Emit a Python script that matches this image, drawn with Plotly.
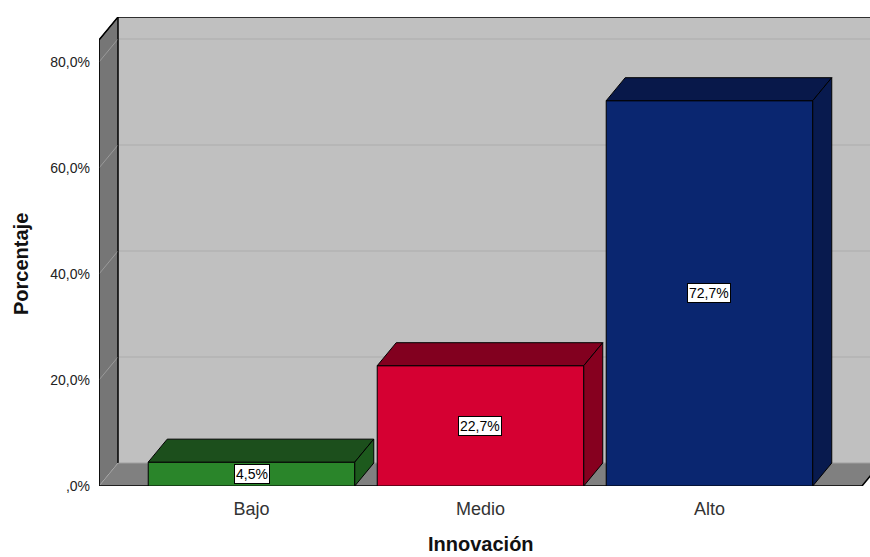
import plotly.graph_objects as go

# Datos
categorias = ["Bajo", "Medio", "Alto"]
porcentajes = [4.5, 22.7, 72.7]
ticks_y = [0, 20, 40, 60, 80]
ticks_y_texto = [",0%", "20,0%", "40,0%", "60,0%", "80,0%"]

color_frente = ["#2a852a", "#d50032", "#0a2670"]
color_techo = ["#1c4f1c", "#82001f", "#08184a"]
color_lado = ["#1d5a1d", "#86001f", "#081a4e"]

FUENTE = "Liberation Sans, Arial, sans-serif"

# Geometría del gráfico (unidades de datos)
X_MIN, X_MAX = -0.666, 2.701
Y_MAX = 88.49
PISO_FIN = 2.666
DX = 19 / 229          # profundidad horizontal
DY = 23 / 5.3          # profundidad vertical
MEDIO_ANCHO = 0.451

fig = go.Figure()


def poligono(xs, ys, fill, line_color="black", width=1):
    fig.add_trace(go.Scatter(
        x=xs + [xs[0]], y=ys + [ys[0]], mode="lines", fill="toself",
        fillcolor=fill, line=dict(color=line_color, width=width),
        hoverinfo="skip", showlegend=False))


def linea(xs, ys, color, width=1):
    fig.add_trace(go.Scatter(
        x=xs, y=ys, mode="lines", line=dict(color=color, width=width),
        hoverinfo="skip", showlegend=False))


# Pared de fondo
poligono([X_MIN + DX, X_MAX + 1, X_MAX + 1, X_MIN + DX],
         [DY, DY, Y_MAX, Y_MAX], "#c0c0c0", line_color="#c0c0c0", width=0)

# Líneas de cuadrícula en el fondo
for v in ticks_y[1:]:
    linea([X_MIN + DX, X_MAX + 1], [v + DY, v + DY], "#acacac")

# Pared lateral
poligono([X_MIN, X_MIN, X_MIN + DX, X_MIN + DX],
         [0, Y_MAX - DY, Y_MAX, DY], "#767676")
for v in ticks_y:
    linea([X_MIN, X_MIN + DX], [v, v + DY], "#9a9a9a")

# Piso
poligono([X_MIN, PISO_FIN, PISO_FIN + DX, X_MIN + DX],
         [0, 0, DY, DY], "#808080", line_color="#808080", width=0)
linea([X_MIN + DX, X_MAX + 1], [DY, DY], "#a0a0a0")
linea([X_MIN, X_MIN + DX], [0, DY], "#a8a8a8")
linea([X_MIN, PISO_FIN, PISO_FIN + DX], [0, 0, DY], "black", 1.5)
# Bordes de las paredes
linea([X_MIN, X_MIN, X_MIN + DX, X_MAX + 1], [0, Y_MAX - DY, Y_MAX, Y_MAX], "black", 1.5)
linea([X_MIN + DX, X_MIN + DX], [DY, Y_MAX], "black", 1)

# Barras 3D
for i, v in enumerate(porcentajes):
    x0, x1 = i - MEDIO_ANCHO, i + MEDIO_ANCHO
    # cara frontal
    poligono([x0, x1, x1, x0], [0, 0, v, v], color_frente[i])
    # cara superior
    poligono([x0, x1, x1 + DX, x0 + DX], [v, v, v + DY, v + DY], color_techo[i])
    # cara lateral
    poligono([x1, x1 + DX, x1 + DX, x1], [0, DY, v + DY, v], color_lado[i])

# Etiquetas de valor
for i, v in enumerate(porcentajes):
    fig.add_annotation(
        x=i, y=v / 2, text=f"{v:.1f}%".replace(".", ","), showarrow=False,
        bgcolor="white", bordercolor="black", borderwidth=1, borderpad=1,
        font=dict(family=FUENTE, size=14, color="black"))

# Títulos de los ejes
fig.add_annotation(
    xref="paper", yref="paper", x=(481 - 99) / 771, y=(486 - 544) / 469,
    text="<b>Innovación</b>", showarrow=False, xanchor="center", yanchor="middle",
    font=dict(family=FUENTE, size=20, color="#111111"))
fig.add_annotation(
    xref="paper", yref="paper", x=(21 - 99) / 771, y=(486 - 264) / 469,
    text="<b>Porcentaje</b>", showarrow=False, textangle=-90,
    xanchor="center", yanchor="middle",
    font=dict(family=FUENTE, size=20, color="#111111"))

fig.update_layout(
    width=870, height=557,
    margin=dict(l=99, r=0, t=17, b=71),
    paper_bgcolor="white", plot_bgcolor="white",
    font=dict(family=FUENTE, color="#222222"),
    xaxis=dict(
        range=[X_MIN, X_MAX], tickvals=[0, 1, 2], ticktext=categorias,
        showgrid=False, zeroline=False, showline=False, ticks="",
        tickfont=dict(size=18, color="#333333"), ticklabelstandoff=10),
    yaxis=dict(
        range=[0, Y_MAX], tickvals=ticks_y, ticktext=ticks_y_texto,
        showgrid=False, zeroline=False, showline=False, ticks="",
        tickfont=dict(size=14, color="#222222"), ticklabelstandoff=8),
)

fig.write_html("out.html")
